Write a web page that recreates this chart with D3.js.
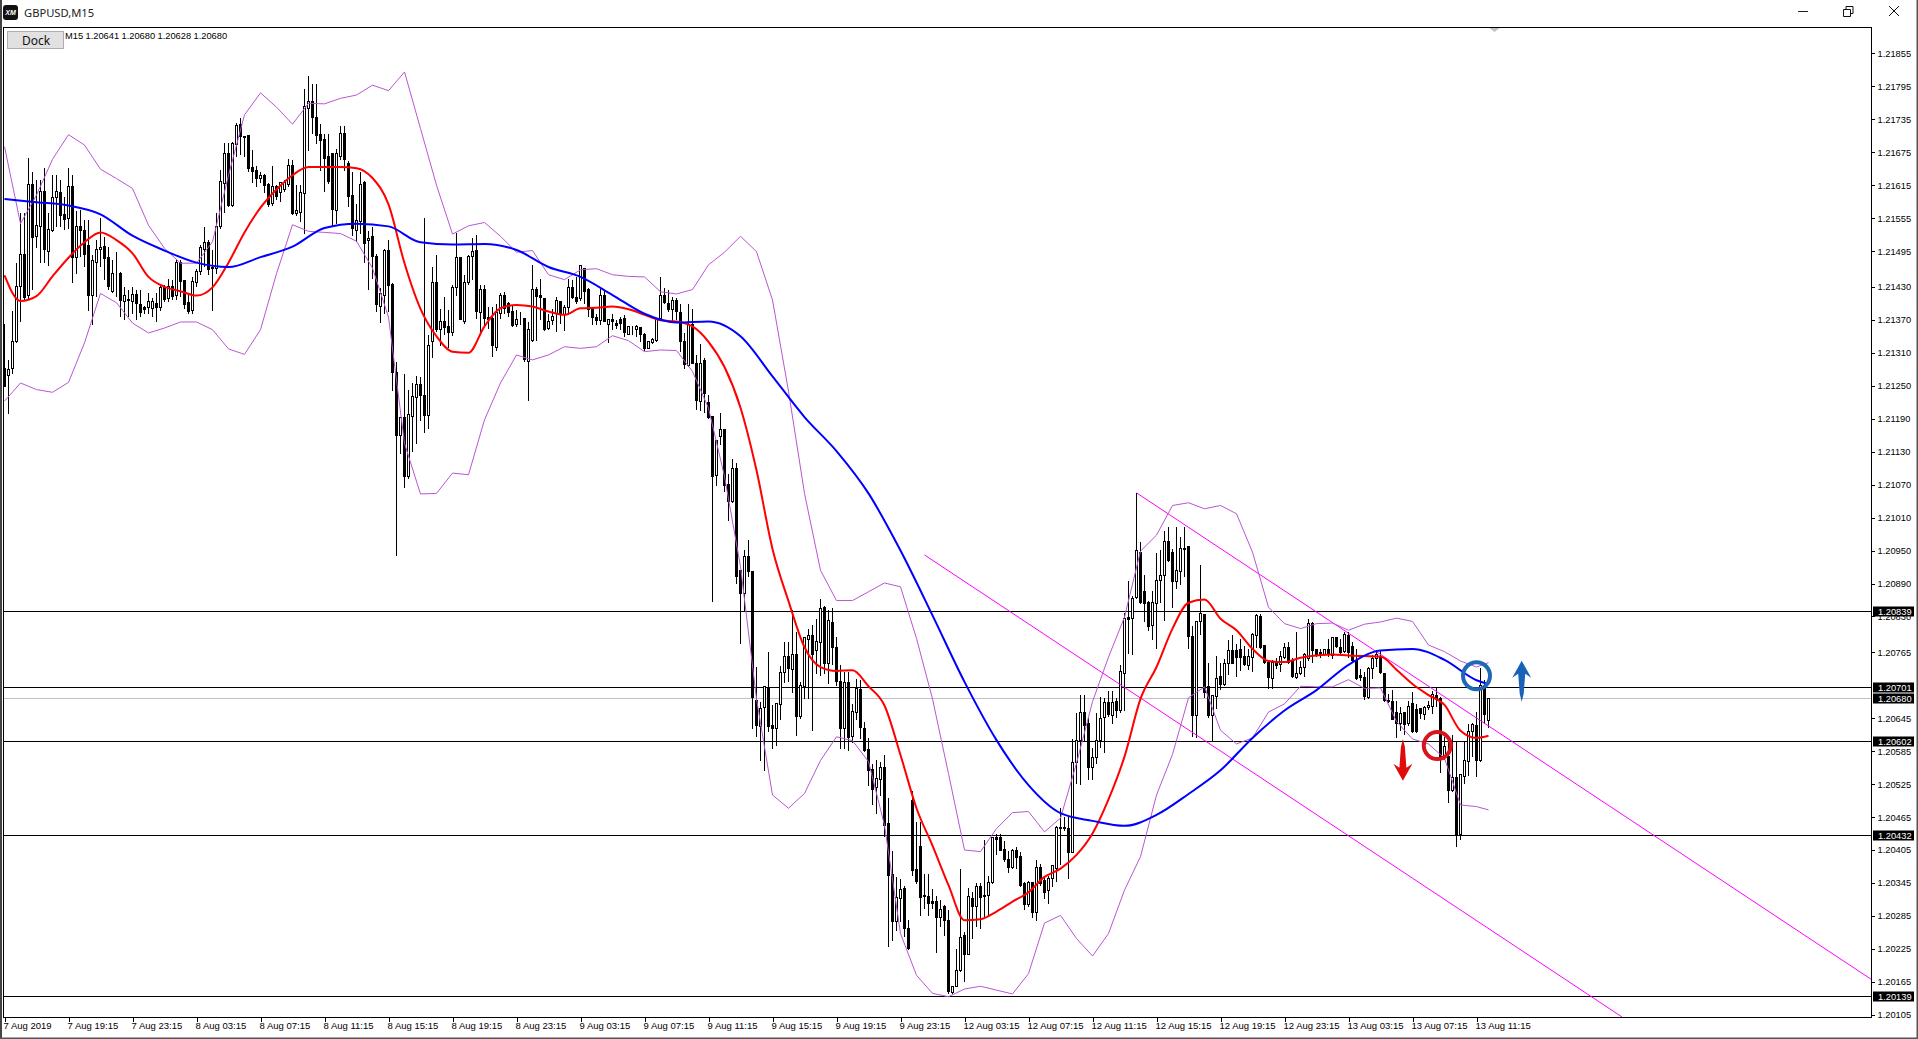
<!DOCTYPE html>
<html><head><meta charset="utf-8">
<script src="https://cdn.jsdelivr.net/npm/d3@7"></script>
<style>
html,body{margin:0;padding:0;background:#fff;overflow:hidden}
svg{display:block}
text{font-family:"Liberation Sans",Arial,sans-serif}
</style></head><body><div id="chart"></div>
<script>
// All prices in points (1e-5) above 1.20000
const basePrice = 1.2;
const opens = [
1282,1268,1281,1331,1430,1489,1415,1616,1521,1539,
1603,1495,1533,1593,1601,1562,1554,1612,1483,1539,
1532,1506,1415,1475,1498,1503,1483,1421,1455,1454,
1404,1407,1404,1416,1398,1393,1393,1390,1400,1393,
1428,1409,1431,1415,1474,1441,1402,1387,1437,1458,
1498,1510,1463,1464,1539,1618,1673,1578,1689,1725,
1703,1705,1647,1642,1628,1633,1616,1581,1612,1602,
1607,1616,1650,1563,1566,1599,1755,1767,1738,1708,
1699,1667,1672,1568,1667,1709,1655,1596,1533,1548,
1620,1514,1522,1485,1395,1414,1496,1434,1274,1160,
1192,1085,1194,1229,1253,1233,1196,1330,1438,1352,
1366,1357,1347,1428,1484,1367,1437,1485,1496,1383,
1426,1374,1373,1320,1381,1414,1400,1385,1361,1371,
1373,1294,1333,1426,1414,1408,1355,1369,1381,1404,
1380,1393,1429,1411,1408,1464,1426,1393,1375,1369,
1414,1361,1370,1364,1371,1373,1344,1355,1353,1356,
1344,1318,1329,1332,1373,1414,1400,1389,1406,1384,
1330,1287,1361,1291,1221,1295,1219,1194,1086,1157,
1170,1070,1040,1099,914,872,939,911,678,629,
664,699,631,626,669,728,758,734,761,648,
702,789,795,768,782,847,745,819,774,711,
626,710,612,655,698,626,588,551,519,534,
555,453,361,274,317,335,262,496,370,412,
322,321,311,312,282,303,277,145,157,185,
250,214,317,302,338,323,322,346,428,427,
406,387,373,405,394,344,305,345,291,373,
350,332,353,371,446,446,444,401,565,605,
655,635,556,574,605,646,673,650,676,659,
726,829,826,864,947,875,855,813,853,895,
904,966,947,894,911,954,957,794,650,820,
834,703,650,685,720,707,745,768,768,770,
758,741,756,796,830,778,747,717,747,742,
756,774,750,719,726,737,753,817,770,765,
761,770,759,791,773,767,796,776,750,722,
719,683,736,754,757,727,678,676,655,636,
656,636,672,661,662,651,665,666,687,681,
575,575,513,537,434,538,566,620,632,568,
702,641];
const closes = [
1249,1279,1330,1430,1489,1410,1616,1519,1542,1603,
1498,1534,1592,1603,1559,1552,1612,1483,1539,1533,
1489,1415,1478,1498,1501,1482,1431,1455,1454,1406,
1414,1406,1416,1400,1383,1389,1403,1403,1392,1428,
1407,1430,1413,1475,1440,1398,1385,1440,1458,1501,
1510,1461,1466,1539,1621,1673,1578,1691,1724,1703,
1701,1645,1640,1628,1633,1614,1580,1612,1595,1619,
1619,1651,1563,1569,1601,1758,1767,1738,1706,1697,
1664,1621,1570,1673,1709,1661,1594,1536,1551,1617,
1509,1518,1485,1397,1417,1496,1432,1274,1160,1192,
1085,1197,1231,1252,1232,1195,1324,1438,1352,1366,
1356,1347,1428,1484,1371,1437,1486,1494,1385,1425,
1373,1370,1323,1383,1415,1391,1383,1360,1370,1370,
1297,1352,1426,1412,1411,1353,1367,1376,1406,1379,
1393,1429,1411,1404,1469,1421,1388,1374,1368,1415,
1367,1370,1367,1360,1363,1346,1357,1354,1357,1343,
1318,1330,1335,1370,1414,1401,1388,1406,1385,1330,
1288,1361,1291,1223,1291,1236,1193,1084,1151,1170,
1069,1040,1099,902,872,940,911,683,631,663,
702,629,626,671,728,758,736,761,648,705,
792,795,760,784,845,745,822,773,711,626,
710,610,657,699,628,587,549,516,535,555,
450,358,274,319,333,262,226,368,347,318,
320,307,308,283,297,276,147,157,186,246,
215,321,302,339,319,320,346,428,425,405,
387,373,405,391,341,305,345,291,373,344,
327,353,376,446,444,444,401,565,605,655,
632,556,574,605,644,673,652,674,658,729,
826,825,863,951,856,853,811,856,896,905,
966,932,893,914,954,952,793,650,821,835,
691,650,686,717,707,745,768,745,756,756,
743,757,798,832,774,746,719,747,741,757,
774,747,720,726,738,761,818,768,759,759,
770,761,791,776,765,798,764,750,717,719,
684,736,753,760,728,677,675,643,636,654,
634,666,620,620,653,665,668,688,681,575,
594,513,537,434,543,567,620,634,568,705,
652,680];
const highs = [
1363,1298,1386,1474,1565,1565,1665,1640,1625,1625,
1647,1565,1634,1634,1625,1595,1647,1634,1568,1571,
1552,1552,1489,1516,1556,1521,1504,1480,1495,1458,
1431,1425,1431,1425,1425,1396,1420,1410,1419,1434,
1434,1446,1443,1480,1480,1443,1416,1449,1464,1507,
1540,1516,1498,1565,1644,1693,1692,1695,1729,1738,
1705,1705,1680,1650,1640,1636,1619,1651,1616,1622,
1625,1663,1662,1616,1616,1791,1815,1800,1800,1727,
1709,1709,1673,1682,1724,1724,1659,1639,1582,1639,
1624,1533,1539,1491,1428,1499,1517,1437,1294,1194,
1272,1244,1255,1268,1267,1556,1343,1467,1488,1391,
1412,1389,1434,1528,1485,1452,1488,1519,1525,1434,
1434,1394,1394,1400,1420,1421,1403,1397,1388,1385,
1373,1367,1470,1431,1446,1409,1382,1391,1412,1406,
1397,1446,1444,1449,1470,1464,1428,1394,1382,1431,
1425,1373,1382,1370,1376,1380,1359,1359,1361,1358,
1346,1332,1337,1373,1448,1428,1425,1412,1411,1400,
1346,1400,1391,1306,1326,1302,1234,1194,1151,1201,
1170,1090,1117,1111,914,952,970,913,739,675,
705,766,669,673,740,785,784,842,802,711,
793,808,815,827,863,850,842,847,793,742,
730,730,672,717,716,639,610,563,569,566,
578,501,405,356,353,341,279,513,456,456,
362,362,335,323,314,305,296,159,226,371,
256,336,329,346,346,424,359,429,435,435,
423,405,408,411,402,347,349,347,387,381,
355,358,378,450,483,466,466,608,655,688,
688,647,592,656,685,683,696,696,683,743,
838,896,869,1055,966,907,859,878,946,952,
986,993,954,993,976,993,957,814,823,925,
835,747,686,759,747,753,788,798,781,790,
778,771,800,835,835,778,750,751,756,768,
782,784,756,802,750,764,826,820,771,771,
771,790,793,793,790,802,802,784,771,735,
730,739,760,770,769,728,690,697,678,666,
657,678,693,672,665,668,678,696,701,684,
611,602,616,602,545,602,636,637,657,738,
716,680];
const lows = [
1248,1200,1273,1328,1367,1407,1407,1425,1501,1474,
1474,1469,1531,1540,1540,1534,1537,1437,1455,1486,
1467,1386,1361,1413,1467,1443,1425,1419,1413,1376,
1370,1376,1382,1370,1376,1382,1382,1376,1366,1386,
1404,1404,1407,1407,1413,1390,1381,1382,1431,1452,
1467,1452,1387,1455,1537,1565,1576,1576,1668,1671,
1668,1640,1619,1612,1619,1601,1577,1578,1589,1586,
1604,1613,1562,1559,1549,1527,1679,1709,1691,1642,
1603,1618,1539,1545,1661,1642,1576,1524,1512,1527,
1475,1425,1446,1385,1365,1382,1385,1242,941,1127,
1065,1082,1130,1145,1186,1164,1173,1302,1349,1323,
1343,1320,1341,1415,1370,1363,1434,1443,1373,1346,
1358,1355,1304,1315,1373,1382,1376,1358,1357,1361,
1294,1224,1330,1333,1370,1350,1353,1361,1349,1364,
1350,1379,1409,1400,1405,1400,1376,1361,1361,1361,
1367,1329,1352,1355,1352,1340,1343,1343,1340,1330,
1315,1317,1326,1330,1371,1400,1385,1367,1370,1312,
1282,1285,1290,1206,1205,1201,1191,858,1069,1143,
1058,1005,1038,890,780,841,902,626,611,568,
549,620,589,596,642,710,711,691,613,645,
681,681,623,727,723,727,708,743,705,590,
590,587,600,643,608,584,523,487,472,505,
429,230,240,259,274,247,223,359,344,286,
299,286,299,218,265,250,144,144,156,183,
165,214,244,265,262,283,286,344,396,404,
384,364,371,371,338,296,303,283,276,341,
317,307,338,347,378,441,354,400,526,524,
602,534,533,562,592,583,648,635,646,656,
659,762,761,863,853,820,805,788,771,856,
823,930,847,881,889,902,771,611,609,798,
683,647,603,662,697,705,725,744,721,732,
740,733,729,773,771,744,699,699,735,729,
753,745,719,717,725,720,750,747,757,756,
759,758,753,774,762,764,756,747,715,714,
679,681,718,739,727,675,673,642,609,623,
616,632,619,619,645,643,660,653,666,546,
569,491,511,412,424,526,541,575,538,566,
636,628];

// Indicator readings, taken at every 4th bar (last one at the final bar)
const bandBars = d3.range(0,369,4).concat([371]);
const upperBand = [1685,1545,1597,1662,1707,1688,1644,1627,1609,1542,1500,1473,1473,1512,1633,1743,1783,1757,1726,1764,1763,1773,1779,1797,1787,1821,1718,1615,1526,1541,1547,1522,1493,1496,1452,1443,1461,1463,1452,1449,1448,1421,1417,1425,1470,1493,1522,1494,1406,1240,1054,914,859,859,875,891,884,790,680,544,405,402,444,473,475,438,463,563,675,756,829,949,978,1032,1037,1026,1032,1017,947,847,817,808,817,818,805,816,820,827,821,778,766,749,738,746];
const lowerBand = [1222,1255,1243,1238,1256,1328,1418,1401,1364,1346,1355,1366,1366,1352,1317,1307,1352,1454,1543,1531,1529,1527,1513,1464,1375,1145,1053,1054,1091,1088,1188,1255,1306,1297,1306,1321,1318,1321,1341,1332,1312,1315,1314,1276,1209,1085,921,680,505,481,508,568,611,604,566,450,253,177,144,138,152,157,150,143,180,272,286,244,212,253,332,393,505,579,682,702,623,598,609,656,671,703,702,702,715,699,700,639,607,598,572,487,484,478];
const fastMA = [1451,1404,1413,1449,1483,1511,1529,1515,1491,1448,1430,1422,1414,1429,1474,1529,1574,1607,1633,1648,1648,1648,1646,1628,1580,1473,1390,1340,1312,1310,1358,1391,1397,1394,1385,1379,1391,1392,1394,1389,1379,1369,1367,1358,1330,1284,1210,1096,953,858,774,738,731,732,703,668,578,481,413,341,277,279,293,311,328,356,371,396,435,497,575,680,738,808,855,861,826,805,771,749,747,755,759,761,759,758,757,733,707,687,669,622,609,613];
// Slow average, read at every 8th bar
const slowBars = d3.range(0,369,8).concat([371]);
const slowMA = [1590,1584,1578,1562,1523,1496,1474,1466,1484,1503,1537,1545,1540,1511,1507,1508,1497,1466,1448,1415,1381,1365,1367,1340,1267,1193,1131,1054,950,832,711,605,523,472,458,449,469,507,550,609,659,696,742,768,771,751,714,707];

const levelPrices = [839,701,602,432,139];
const bidPrice = 680;
const yTicks = [1855,1795,1735,1675,1615,1555,1495,1430,1370,1310,1250,1190,1130,1070,1010,950,890,830,765,645,585,525,465,405,345,285,225,165,105];
const xTickLabels = ["7 Aug 2019","7 Aug 19:15","7 Aug 23:15","8 Aug 03:15","8 Aug 07:15","8 Aug 11:15","8 Aug 15:15","8 Aug 19:15","8 Aug 23:15","9 Aug 03:15","9 Aug 07:15","9 Aug 11:15","9 Aug 15:15","9 Aug 19:15","9 Aug 23:15","12 Aug 03:15","12 Aug 07:15","12 Aug 11:15","12 Aug 15:15","12 Aug 19:15","12 Aug 23:15","13 Aug 03:15","13 Aug 07:15","13 Aug 11:15"];
const xTickBars = xTickLabels.map((d,i)=>i*16);
const quoteLabels = ["1.20641","1.20680","1.20628","1.20680"];
const trendA = [[283,1055],[466.6,170]];
const trendB = [[230,942],[404.4,101]];

const W=1918,H=1039, L=3.5, T=27.5, R=1871.5, B=1017.5;
const x = d3.scaleLinear().domain([0,371]).range([4.5,1488.5]);
const y = d3.scaleLinear().domain([1855,405]).range([53.3,850]);
const sy = v => Math.round(y(v)-0.5)+0.5;
const fmt = v => (basePrice+v/1e5).toFixed(5);

const svg = d3.select("#chart").append("svg").attr("width",W).attr("height",H).attr("viewBox",`0 0 ${W} ${H}`);
svg.append("rect").attr("width",W).attr("height",H).attr("fill","#fff");
svg.append("defs").append("clipPath").attr("id","plot").append("rect").attr("x",L).attr("y",T).attr("width",R-L).attr("height",B-T);

// window chrome
svg.append("rect").attr("x",0).attr("y",0).attr("width",2).attr("height",H).attr("fill","#444");
svg.append("rect").attr("x",W-1.5).attr("y",0).attr("width",1.5).attr("height",H).attr("fill","#555");
svg.append("rect").attr("x",0).attr("y",H-1.5).attr("width",W).attr("height",1.5).attr("fill","#555");
svg.append("rect").attr("x",3).attr("y",5).attr("width",15).attr("height",15).attr("rx",3).attr("fill","#111");
svg.append("text").attr("x",10.5).attr("y",15).attr("text-anchor","middle").attr("fill","#fff").attr("font-size",7).attr("font-weight","bold").attr("font-style","italic").text("XM");
svg.append("text").attr("x",24).attr("y",17).attr("font-size",11.2).attr("fill","#222").style("font-family","'Noto Sans'").text("GBPUSD,M15");
const ctl = svg.append("g").attr("stroke","#111").attr("fill","none").attr("stroke-width",1);
ctl.append("path").attr("d","M1798 11.5H1808").attr("stroke","#222");
ctl.append("path").attr("d","M1843.5 9.5h7v7h-7zM1846 9.5v-3h7v7h-2.5");
ctl.append("path").attr("d","M1889 6L1899 16M1899 6L1889 16");

const plot = svg.append("g").attr("clip-path","url(#plot)");
// levels
plot.selectAll(".lvl").data(levelPrices).join("line").attr("class","lvl")
  .attr("x1",L).attr("x2",R).attr("y1",sy).attr("y2",sy).attr("stroke","#000").attr("shape-rendering","crispEdges");
plot.append("line").attr("x1",L).attr("x2",R).attr("y1",sy(bidPrice)).attr("y2",sy(bidPrice)).attr("stroke","#c0c0c0").attr("shape-rendering","crispEdges");

// candles
const bars = d3.range(opens.length);
const cg = plot.append("g").attr("shape-rendering","crispEdges");
cg.selectAll(".wick").data(bars).join("line").attr("class","wick")
  .attr("x1",x).attr("x2",x).attr("y1",i=>sy(highs[i])).attr("y2",i=>sy(lows[i])).attr("stroke","#000");
cg.selectAll(".body").data(bars).join("rect").attr("class","body")
  .attr("x",i=>x(i)-1).attr("width",2)
  .attr("y",i=>sy(Math.max(opens[i],closes[i])))
  .attr("height",i=>Math.max(0,sy(Math.min(opens[i],closes[i]))-sy(Math.max(opens[i],closes[i]))))
  .attr("fill",i=>closes[i]>=opens[i]?"#fff":"#000").attr("stroke","#000");

// trend lines
const lineXY = d3.line().x(d=>x(d[0])).y(d=>y(d[1]));
[trendA,trendB].forEach(t=>plot.append("path").attr("d",lineXY(t)).attr("fill","none").attr("stroke","#ff00ff").attr("stroke-width",1));

// indicators
const pts=(b,v)=>b.map((k,i)=>[k,v[i]]);
const smooth = d3.line().x(d=>x(d[0])).y(d=>y(d[1])).curve(d3.curveMonotoneX);
plot.append("path").attr("d",lineXY(pts(bandBars,upperBand))).attr("fill","none").attr("stroke","#ba55d3").attr("stroke-width",1);
plot.append("path").attr("d",lineXY(pts(bandBars,lowerBand))).attr("fill","none").attr("stroke","#ba55d3").attr("stroke-width",1);
plot.append("path").attr("d",smooth(pts(bandBars,fastMA))).attr("fill","none").attr("stroke","#ff0000").attr("stroke-width",2);
plot.append("path").attr("d",smooth(pts(slowBars,slowMA))).attr("fill","none").attr("stroke","#0000ff").attr("stroke-width",2);

// annotations: circles and arrows
const circles=[{bar:368,p:722,c:"#1f68b8"},{bar:358.2,p:595,c:"#d8141c"}];
plot.selectAll(".ring").data(circles).join("circle").attr("class","ring")
  .attr("cx",d=>x(d.bar)).attr("cy",d=>y(d.p)).attr("r",13.5).attr("fill","none").attr("stroke",d=>d.c).attr("stroke-width",4);
function arrow(bar,tailP,tipP,col){
  const cx=x(bar),ty=y(tipP),by=y(tailP),dir=by>ty?1:-1;
  const hb=ty+dir*15;
  const p=[[cx,ty],[cx+9.5,hb+dir*2],[cx+3.5,hb-dir*2],[cx+2,by-dir*8],[cx,by],[cx-2,by-dir*8],[cx-3.5,hb-dir*2],[cx-9.5,hb+dir*2]];
  plot.append("polygon").attr("points",p.map(d=>d.join(",")).join(" ")).attr("fill",col);
}
arrow(349.6,607,531,"#e00b0b");
arrow(379.3,675,749.5,"#1a62b8");
plot.append("path").attr("d",`M${x(372.5)-5},28 h10 l-5,4 z`).attr("fill","#c0c0c0");

// frame
svg.append("rect").attr("x",L).attr("y",T).attr("width",R-L).attr("height",B-T).attr("fill","none").attr("stroke","#000").attr("shape-rendering","crispEdges");

// axes
const yAxis = d3.axisRight(y).tickValues(yTicks).tickFormat(fmt).tickSize(3).tickPadding(3);
const yg = svg.append("g").attr("transform",`translate(${R},0)`).call(yAxis);
yg.select(".domain").remove();
yg.selectAll("text").attr("font-size",9.3).attr("fill","#000").style("font-family","'Liberation Sans'");
yg.selectAll("line").attr("stroke","#000").attr("shape-rendering","crispEdges");

const xAxis = d3.axisBottom(x).tickValues(xTickBars).tickFormat((d,i)=>xTickLabels[i]).tickSize(4).tickPadding(1);
const xg = svg.append("g").attr("transform",`translate(0,${B})`).call(xAxis);
xg.select(".domain").remove();
xg.selectAll("text").attr("font-size",9.5).attr("fill","#000").attr("text-anchor","start").attr("dx",-1.5).style("font-family","'Liberation Sans'");
xg.selectAll("line").attr("stroke","#000").attr("shape-rendering","crispEdges");

// price tags
const tags = levelPrices.concat([bidPrice]);
const tg = svg.selectAll(".tag").data(tags).join("g").attr("class","tag").attr("transform",d=>`translate(0,${sy(d)})`);
tg.append("rect").attr("x",1873).attr("y",-5).attr("width",41).attr("height",10).attr("fill","#000");
tg.append("text").attr("x",1878).attr("y",3.5).attr("font-size",9.3).attr("fill","#fff").text(fmt);

// info line and Dock button
svg.append("text").attr("x",65).attr("y",39).attr("font-size",9.3).attr("fill","#000").text("M15");
svg.selectAll(".quote").data(quoteLabels).join("text").attr("class","quote")
  .attr("x",(d,i)=>85.5+36*i).attr("y",39).attr("font-size",9.3).attr("fill","#000").text(d=>d);
svg.append("rect").attr("x",7.5).attr("y",31.5).attr("width",56).attr("height",17).attr("fill","#e1e1e1").attr("stroke","#adadad").attr("shape-rendering","crispEdges");
svg.append("text").attr("x",36).attr("y",45).attr("text-anchor","middle").attr("font-size",12).attr("fill","#111").style("font-family","'Noto Sans'").text("Dock");
</script></body></html>
